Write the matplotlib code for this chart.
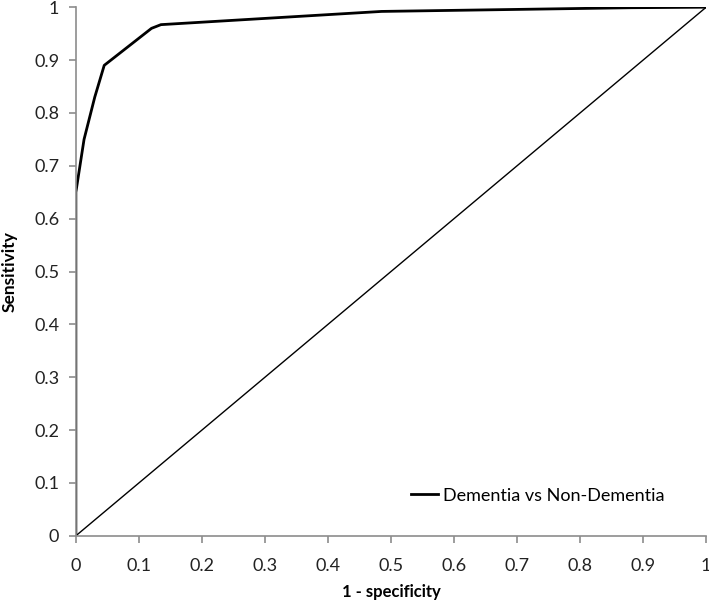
import numpy as np
import matplotlib.pyplot as plt

plt.rcParams['font.family'] = ['Lato', 'DejaVu Sans']

# ROC curve points
fpr = [0, 0, 0.013, 0.03, 0.045, 0.12, 0.135, 0.485, 0.88, 1.0]
tpr = [0, 0.65, 0.75, 0.83, 0.89, 0.96, 0.967, 0.992, 0.999, 1.0]
diag = [0, 1]
ticks = np.round(np.arange(0, 1.01, 0.1), 1)
tick_labels = ['0'] + ['%.1f' % t for t in ticks[1:-1]] + ['1']

fig = plt.figure(figsize=(7.09, 6.0), dpi=100)
ax = fig.add_axes([0.107, 0.107, 0.889, 0.881])

ax.plot(diag, diag, color='black', lw=1.0)
ax.plot(fpr, tpr, color='black', lw=2.0, label='Dementia vs Non-Dementia')

ax.set_xlim(0, 1)
ax.set_ylim(0, 1)
ax.set_xticks(ticks)
ax.set_xticklabels(tick_labels)
ax.set_yticks(ticks)
ax.set_yticklabels(tick_labels)

for s in ['top', 'right']:
    ax.spines[s].set_visible(False)
for s in ['left', 'bottom']:
    ax.spines[s].set_color('#8c8c8c')
    ax.spines[s].set_linewidth(1.2)
ax.tick_params(direction='out', length=5, width=1.2, color='#8c8c8c',
               labelsize=13, labelcolor='#222222')
ax.tick_params(axis='x', pad=11)
ax.tick_params(axis='y', pad=7)

ax.set_xlabel('1 - specificity', fontsize=12, fontweight='bold', labelpad=7)
ax.set_ylabel('Sensitivity', fontsize=12.5, fontweight='bold', labelpad=12)

ax.legend(loc='lower right', bbox_to_anchor=(0.96, 0.03), frameon=False,
          fontsize=13, handlelength=1.5, handletextpad=0.3)

fig.savefig('out.png', dpi=100)
